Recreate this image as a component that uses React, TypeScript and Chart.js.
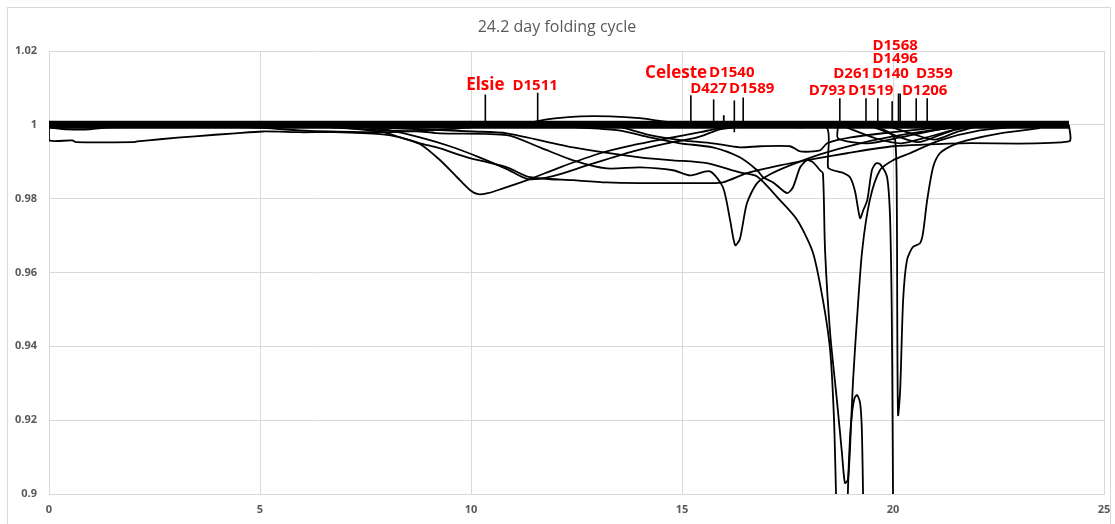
import React, { useEffect, useRef } from "react";
import { Chart, registerables } from "chart.js";

Chart.register(...registerables);

// ---------- text ----------
const chartTitle = "24.2 day folding cycle";
const yTickValues = [0.9, 0.92, 0.94, 0.96, 0.98, 1, 1.02];
const yTickLabels = ["0.9", "0.92", "0.94", "0.96", "0.98", "1", "1.02"];

// ---------- folded light-curve segments [phase (days), relative flux] ----------
const baselineBand = [[0, 1.0], [24.17, 1.0]];

const wideDipCurve = [
  [0, 1.0], [0, 0.9958], [0.55, 0.9958], [0.64, 0.9953], [1.99, 0.9953], [2.09, 0.9955],
  [2.63, 0.9961], [3.46, 0.9969], [4.41, 0.9977], [5.07, 0.9982], [5.95, 0.998], [6.78, 0.998],
  [7.91, 0.9974], [8.32, 0.9966], [8.79, 0.995], [9.27, 0.9936], [9.91, 0.9912], [10.85, 0.9885],
  [11.4, 0.9858], [12.42, 0.985], [13.22, 0.9844], [14.0, 0.9842], [14.79, 0.9842], [15.59, 0.9842],
  [15.97, 0.9844], [16.54, 0.9869], [17.32, 0.989], [18.1, 0.9907], [18.91, 0.9923], [20.0, 0.9942],
  [21.59, 0.995], [24.17, 0.9955], [24.17, 1.0],
];

const elsieCurve = [
  [6.9, 0.9993], [7.91, 0.998], [8.32, 0.9966], [8.79, 0.9948], [9.27, 0.9904], [9.67, 0.9858],
  [9.98, 0.9823], [10.17, 0.9812], [10.4, 0.9815], [10.69, 0.9825], [11.33, 0.985], [12.11, 0.9885],
  [13.06, 0.9923], [13.84, 0.9945], [14.64, 0.9963], [15.43, 0.998], [15.9, 0.9991], [16.4, 0.9996],
];

const wavyCurve = [
  [6.66, 0.9993], [7.91, 0.9985], [8.79, 0.9982], [9.27, 0.9977], [10.85, 0.9972], [11.63, 0.9939],
  [12.42, 0.9904], [13.22, 0.9882], [14.0, 0.9885], [14.79, 0.9877], [15.19, 0.9863], [15.66, 0.9874],
  [15.97, 0.9831], [16.14, 0.9742], [16.26, 0.9674], [16.37, 0.969], [16.54, 0.9788], [16.78, 0.9842],
  [17.09, 0.9866], [17.56, 0.989], [18.27, 0.992], [19.22, 0.995], [20.17, 0.9972], [21.11, 0.9988],
  [21.82, 0.9996],
];

const d793Curve = [
  [7.13, 0.9996], [8.79, 0.9988], [10.05, 0.9982], [10.85, 0.9977], [12.42, 0.9939], [14.0, 0.9912],
  [14.79, 0.9904], [15.59, 0.9896], [16.37, 0.9871], [16.78, 0.986], [17.32, 0.9796], [17.73, 0.9742],
  [18.1, 0.9655], [18.34, 0.9525], [18.51, 0.939], [18.6, 0.9209], [18.65, 0.9001], [18.7, 0.88],
];

const twinDipCurve = [
  [12.5, 0.9993], [13.5, 0.9985], [14.24, 0.9966], [14.95, 0.995], [15.73, 0.9939], [16.37, 0.9912],
  [16.78, 0.9877], [16.92, 0.9858], [17.16, 0.9844], [17.49, 0.9815], [17.63, 0.9831], [17.8, 0.9885],
  [17.96, 0.9904], [18.1, 0.9899], [18.27, 0.9877], [18.34, 0.9869], [18.39, 0.966], [18.51, 0.9436],
  [18.67, 0.9255], [18.79, 0.9111], [18.86, 0.903], [18.93, 0.9038], [18.98, 0.912], [19.05, 0.9301],
  [19.15, 0.9479], [19.27, 0.966], [19.45, 0.9796], [19.69, 0.9877], [20.0, 0.9904], [20.4, 0.9923],
  [21.11, 0.9958], [22.06, 0.9985], [23.0, 0.9996],
];

const peakCurve = [
  [18.9, 0.88], [18.93, 0.9003], [18.98, 0.915], [19.03, 0.922], [19.09, 0.926], [19.15, 0.9268],
  [19.22, 0.9247], [19.26, 0.918], [19.29, 0.9003], [19.31, 0.88],
];

const deepDipCurve = [
  [16.9, 0.9996], [17.8, 0.9993], [18.44, 0.9991], [18.46, 0.9885], [18.58, 0.9877], [18.79, 0.9871],
  [18.98, 0.9858], [19.1, 0.982], [19.22, 0.9747], [19.3, 0.977], [19.39, 0.9796], [19.5, 0.9877],
  [19.6, 0.9896], [19.7, 0.9893], [19.86, 0.9858], [19.93, 0.975], [19.97, 0.95], [19.99, 0.92],
  [20.0, 0.9003], [20.01, 0.88],
];

const vDipCurve = [
  [19.6, 0.9993], [19.9, 0.998], [20.05, 0.996], [20.09, 0.98], [20.1, 0.95], [20.12, 0.9214],
  [20.17, 0.9282], [20.24, 0.9525], [20.33, 0.9633], [20.47, 0.9669], [20.64, 0.9679], [20.71, 0.9706],
  [20.81, 0.9796], [20.95, 0.9885], [21.11, 0.9923], [21.42, 0.9945], [21.75, 0.9958], [22.54, 0.9977],
  [23.48, 0.9991],
];

const crossingCurve = [
  [7.5, 0.9993], [8.08, 0.9985], [8.79, 0.9966], [9.5, 0.9942], [10.2, 0.9912], [10.85, 0.988],
  [11.35, 0.9853], [11.94, 0.9861], [12.75, 0.989], [13.84, 0.9928], [14.64, 0.995], [15.36, 0.9966],
  [15.9, 0.9988], [16.5, 0.9996],
];

const shoulderCurve = [
  [13.5, 0.9996], [14.24, 0.9972], [15.0, 0.9958], [15.73, 0.995], [16.37, 0.9939], [16.85, 0.9942],
  [17.56, 0.9942], [17.8, 0.9928], [18.27, 0.9931], [18.44, 0.995], [19.0, 0.9966], [20.0, 0.998],
  [21.0, 0.9991], [22.0, 0.9996],
];

const aboveBandCurve = [
  [11.2, 1.0001], [11.8, 1.0015], [12.6, 1.0023], [13.3, 1.0023], [14.0, 1.0018], [14.5, 1.001],
  [15.2, 1.0001],
];

const lowerEdgeCurve = [
  [0, 0.9993], [0.43, 0.9988], [0.97, 0.9988], [1.45, 0.9993], [4.76, 0.9993], [5.95, 0.9985],
  [6.66, 0.9982], [7.91, 0.998], [9.03, 0.9985], [10.0, 0.9993],
];

const meshCurveA = [[18.7, 0.9999], [18.7, 0.9963], [19.39, 0.995], [20.17, 0.9966], [21.11, 0.9988], [21.82, 0.9996]];
const meshCurveB = [[19.5, 0.9996], [20.1, 0.9969], [20.6, 0.9953], [21.1, 0.9972], [21.6, 0.9993]];
const meshCurveC = [[19.9, 0.9996], [20.5, 0.9974], [21.0, 0.996], [21.5, 0.998], [22.0, 0.9996]];
const meshCurveD = [[18.9, 0.9993], [19.6, 0.9963], [20.2, 0.995], [20.8, 0.9966], [21.4, 0.9985], [22.0, 0.9996]];

const spikeCurve = [[15.99, 1.0], [15.99, 1.0026]];

// ---------- dip markers ----------
const markerNames = ["Elsie", "D1511", "Celeste", "D427", "D1540", "D1589", "D793", "D261", "D1519", "D140", "D1496", "D1568", "D1206", "D359"];
const markerX = [10.34, 11.58, 15.21, 15.75, 16.24, 16.45, 18.74, 19.36, 19.64, 19.98, 20.13, 20.17, 20.55, 20.81];
const markerBase = [1.0, 1.0, 1.0, 1.0, 0.998, 1.0, 1.0, 1.0, 1.0, 1.0, 1.0, 1.0, 1.0, 1.0];
const markerTop = [1.0082, 1.0087, 1.008, 1.0069, 1.0066, 1.0074, 1.0072, 1.0072, 1.0072, 1.0064, 1.0085, 1.0085, 1.0072, 1.0072];

const labelNames = ["Elsie", "D1511", "Celeste", "D1540", "D427", "D1589", "D1568", "D1496", "D261", "D140", "D359", "D793", "D1519", "D1206"];
const labelX = [10.34, 11.52, 14.86, 16.18, 15.63, 16.65, 20.05, 20.05, 19.02, 19.94, 20.98, 18.44, 19.47, 20.75];
const labelY = [1.0107, 1.0107, 1.0141, 1.0141, 1.0099, 1.0099, 1.0215, 1.0179, 1.0139, 1.0139, 1.0139, 1.0093, 1.0093, 1.0093];

const curves = [
  wideDipCurve, elsieCurve, wavyCurve, d793Curve, twinDipCurve, peakCurve, deepDipCurve, vDipCurve,
  crossingCurve, shoulderCurve, aboveBandCurve, lowerEdgeCurve, meshCurveA, meshCurveB, meshCurveC,
  meshCurveD, spikeCurve,
];

const toPoints = (arr: number[][]) => arr.map(([x, y]) => ({ x, y }));

const overlayPlugin = {
  id: "overlay",
  beforeDraw(chart: any) {
    const { ctx, width, height } = chart;
    ctx.save();
    ctx.fillStyle = "#ffffff";
    ctx.fillRect(0, 0, width, height);
    ctx.strokeStyle = "#d9d9d9";
    ctx.lineWidth = 1;
    ctx.strokeRect(7.5, 7.5, 1103, height + 20);
    ctx.restore();
  },
  afterDraw(chart: any) {
    const { ctx, scales } = chart;
    ctx.save();
    ctx.fillStyle = "#595959";
    ctx.font = '16px "Open Sans"';
    ctx.textAlign = "center";
    ctx.textBaseline = "middle";
    ctx.fillText(chartTitle, 557, 27);
    ctx.fillStyle = "#ff0000";
    labelNames.forEach((name, i) => {
      const big = name === "Elsie" || name === "Celeste";
      ctx.font = `bold ${big ? 17 : 15}px "Open Sans"`;
      ctx.fillText(name, scales.x.getPixelForValue(labelX[i]), scales.y.getPixelForValue(labelY[i]));
    });
    ctx.restore();
  },
};

export default function App() {
  const canvasRef = useRef<HTMLCanvasElement | null>(null);

  useEffect(() => {
    document.body.style.margin = "0";
    const canvas = canvasRef.current;
    if (!canvas) return;

    const datasets: any[] = [];
    datasets.push({
      data: toPoints(baselineBand),
      borderColor: "#000",
      borderWidth: 8,
      borderCapStyle: "butt",
      tension: 0,
    });
    curves.forEach((c) => {
      datasets.push({ data: toPoints(c), borderColor: "#000", borderWidth: 1.8, tension: 0.25 });
    });
    markerNames.forEach((_, i) => {
      datasets.push({
        data: [{ x: markerX[i], y: markerBase[i] }, { x: markerX[i], y: markerTop[i] }],
        borderColor: "#000",
        borderWidth: 1.6,
        tension: 0,
      });
    });

    const tickFont = { family: "Open Sans", size: 11, weight: "bold" as const };

    const chart = new Chart(canvas, {
      type: "line",
      data: { datasets },
      plugins: [overlayPlugin],
      options: {
        animation: false,
        responsive: false,
        devicePixelRatio: 1,
        layout: { padding: { top: 51, right: 11, bottom: 0, left: 0 } },
        elements: { point: { radius: 0 }, line: { fill: false } },
        plugins: { legend: { display: false }, tooltip: { enabled: false }, title: { display: false } },
        scales: {
          x: {
            type: "linear",
            min: 0,
            max: 25,
            ticks: { stepSize: 5, color: "#595959", font: tickFont, padding: 9 },
            grid: { color: "#d9d9d9", drawTicks: false },
            border: { color: "#d9d9d9" },
            afterFit: (s: any) => {
              s.height = 30;
              s.paddingLeft = 0;
              s.paddingRight = 0;
            },
          },
          y: {
            type: "linear",
            min: 0.9,
            max: 1.02,
            afterBuildTicks: (s: any) => {
              s.ticks = yTickValues.map((v) => ({ value: v }));
            },
            ticks: {
              color: "#595959",
              font: tickFont,
              padding: 12,
              callback: (value: any) => {
                const i = yTickValues.findIndex((v) => Math.abs(v - Number(value)) < 1e-6);
                return i >= 0 ? yTickLabels[i] : "";
              },
            },
            grid: { color: "#d9d9d9", drawTicks: false },
            border: { color: "#d9d9d9" },
            afterFit: (s: any) => {
              s.width = 49;
              s.paddingTop = 0;
              s.paddingBottom = 0;
            },
          },
        },
      } as any,
    });
    return () => chart.destroy();
  }, []);

  return (
    <div style={{ width: 1115, height: 524, position: "relative", background: "#fff" }}>
      <canvas ref={canvasRef} width={1115} height={524} style={{ width: 1115, height: 524, display: "block" }} />
    </div>
  );
}
